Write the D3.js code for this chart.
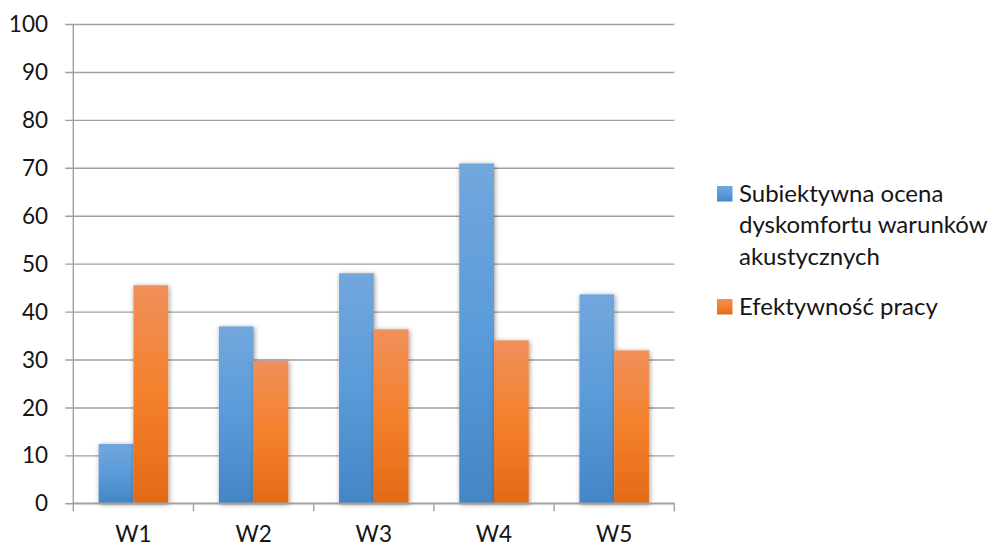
<!DOCTYPE html>
<html>
<head>
<meta charset="utf-8">
<script src="https://cdn.jsdelivr.net/npm/d3@7"></script>
<style>
  html, body { margin: 0; padding: 0; background: #fff; }
  svg text { font-family: Lato, "Open Sans", sans-serif; fill: #151515; }
</style>
</head>
<body>
<svg id="chart" width="1000" height="547"></svg>
<script>
const categories = ["W1", "W2", "W3", "W4", "W5"];
const seriesNames = ["Subiektywna ocena dyskomfortu warunków akustycznych", "Efektywność pracy"];
const discomfort = [12.4, 36.9, 48.0, 70.9, 43.6];
const efficiency = [45.5, 29.7, 36.3, 34.0, 31.9];
const yTicks = [0, 10, 20, 30, 40, 50, 60, 70, 80, 90, 100];
const legendLines = [["Subiektywna ocena", "dyskomfortu warunków", "akustycznych"], ["Efektywność pracy"]];

const svg = d3.select("#chart");
const plotLeft = 73.3, plotRight = 674.3, plotTop = 24, plotBottom = 503.3;

const y = d3.scaleLinear().domain([0, 100]).range([plotBottom, plotTop]);
const x0 = d3.scaleBand().domain(categories).range([plotLeft, plotRight]).padding(0);
const x1 = d3.scaleBand().domain([0, 1]).range([0, x0.bandwidth()]).paddingInner(0).paddingOuter(0.73);

const defs = svg.append("defs");
function gradient(id, stops) {
  const g = defs.append("linearGradient").attr("id", id)
    .attr("x1", 0).attr("y1", 0).attr("x2", 0).attr("y2", 1);
  stops.forEach(([o, c]) => g.append("stop").attr("offset", o).attr("stop-color", c));
}
gradient("gBlue", [[0, "#72a7dc"], [0.5, "#5a9bda"], [1, "#4485c5"]]);
gradient("gOrange", [[0, "#f0905b"], [0.5, "#f4802b"], [1, "#e36a17"]]);
const shadow = defs.append("filter").attr("id", "shadow")
  .attr("x", "-50%").attr("y", "-20%").attr("width", "200%").attr("height", "140%");
shadow.append("feDropShadow").attr("dx", 1).attr("dy", 1)
  .attr("stdDeviation", 2.5).attr("flood-color", "#000").attr("flood-opacity", 0.4);

// horizontal gridlines with their small left ticks
svg.append("g")
  .attr("transform", `translate(${plotLeft},0)`)
  .call(d3.axisLeft(y).tickValues(yTicks).tickSize(-(plotRight - plotLeft)).tickSizeOuter(0).tickFormat(""))
  .call(g => g.select(".domain").remove())
  .call(g => g.selectAll("line").attr("stroke", "#a0a0a0").attr("stroke-width", 1.4).attr("x1", -8));

// y labels
svg.append("g").selectAll("text").data(yTicks).join("text")
  .attr("x", 48).attr("y", d => y(d)).attr("dy", "0.36em")
  .attr("text-anchor", "end").attr("font-size", 22.5).text(d => d);

// bars
const colors = ["url(#gBlue)", "url(#gOrange)"];
const groups = svg.append("g").selectAll("g").data(categories).join("g")
  .attr("transform", d => `translate(${x0(d)},0)`);
groups.selectAll("rect")
  .data((d, i) => [discomfort[i], efficiency[i]].map((v, s) => ({ v, s })))
  .join("rect")
  .attr("x", d => x1(d.s)).attr("width", x1.bandwidth())
  .attr("y", d => y(d.v)).attr("height", d => y(0) - y(d.v))
  .attr("fill", d => colors[d.s]).attr("filter", "url(#shadow)");

// y axis line
svg.append("line").attr("x1", plotLeft).attr("x2", plotLeft).attr("y1", plotTop).attr("y2", plotBottom)
  .attr("stroke", "#a0a0a0").attr("stroke-width", 1.4);

// x axis with boundary ticks
const xb = svg.append("g");
xb.append("line").attr("x1", plotLeft).attr("x2", plotRight).attr("y1", plotBottom).attr("y2", plotBottom)
  .attr("stroke", "#a0a0a0").attr("stroke-width", 1.4);
const edges = categories.map(c => x0(c)).concat([plotRight]);
xb.selectAll("line.edge").data(edges).join("line").attr("class", "edge")
  .attr("x1", d => d).attr("x2", d => d).attr("y1", plotBottom).attr("y2", plotBottom + 8)
  .attr("stroke", "#a0a0a0").attr("stroke-width", 1.4);
xb.selectAll("text").data(categories).join("text")
  .attr("x", d => x0(d) + x0.bandwidth() / 2).attr("y", 541.5)
  .attr("text-anchor", "middle").attr("font-size", 22.5).text(d => d);

// legend
const legendY = [186, 299];
const legend = svg.append("g");
legendLines.forEach((lines, i) => {
  legend.append("rect").attr("x", 717).attr("y", legendY[i]).attr("width", 15.5).attr("height", 15.5)
    .attr("fill", colors[i]);
  const t = legend.append("text").attr("x", 739).attr("y", legendY[i] + 15.5).attr("font-size", 24);
  lines.forEach((ln, k) => t.append("tspan").attr("x", 739).attr("dy", k === 0 ? 0 : 31.5).text(ln));
});
</script>
</body>
</html>
